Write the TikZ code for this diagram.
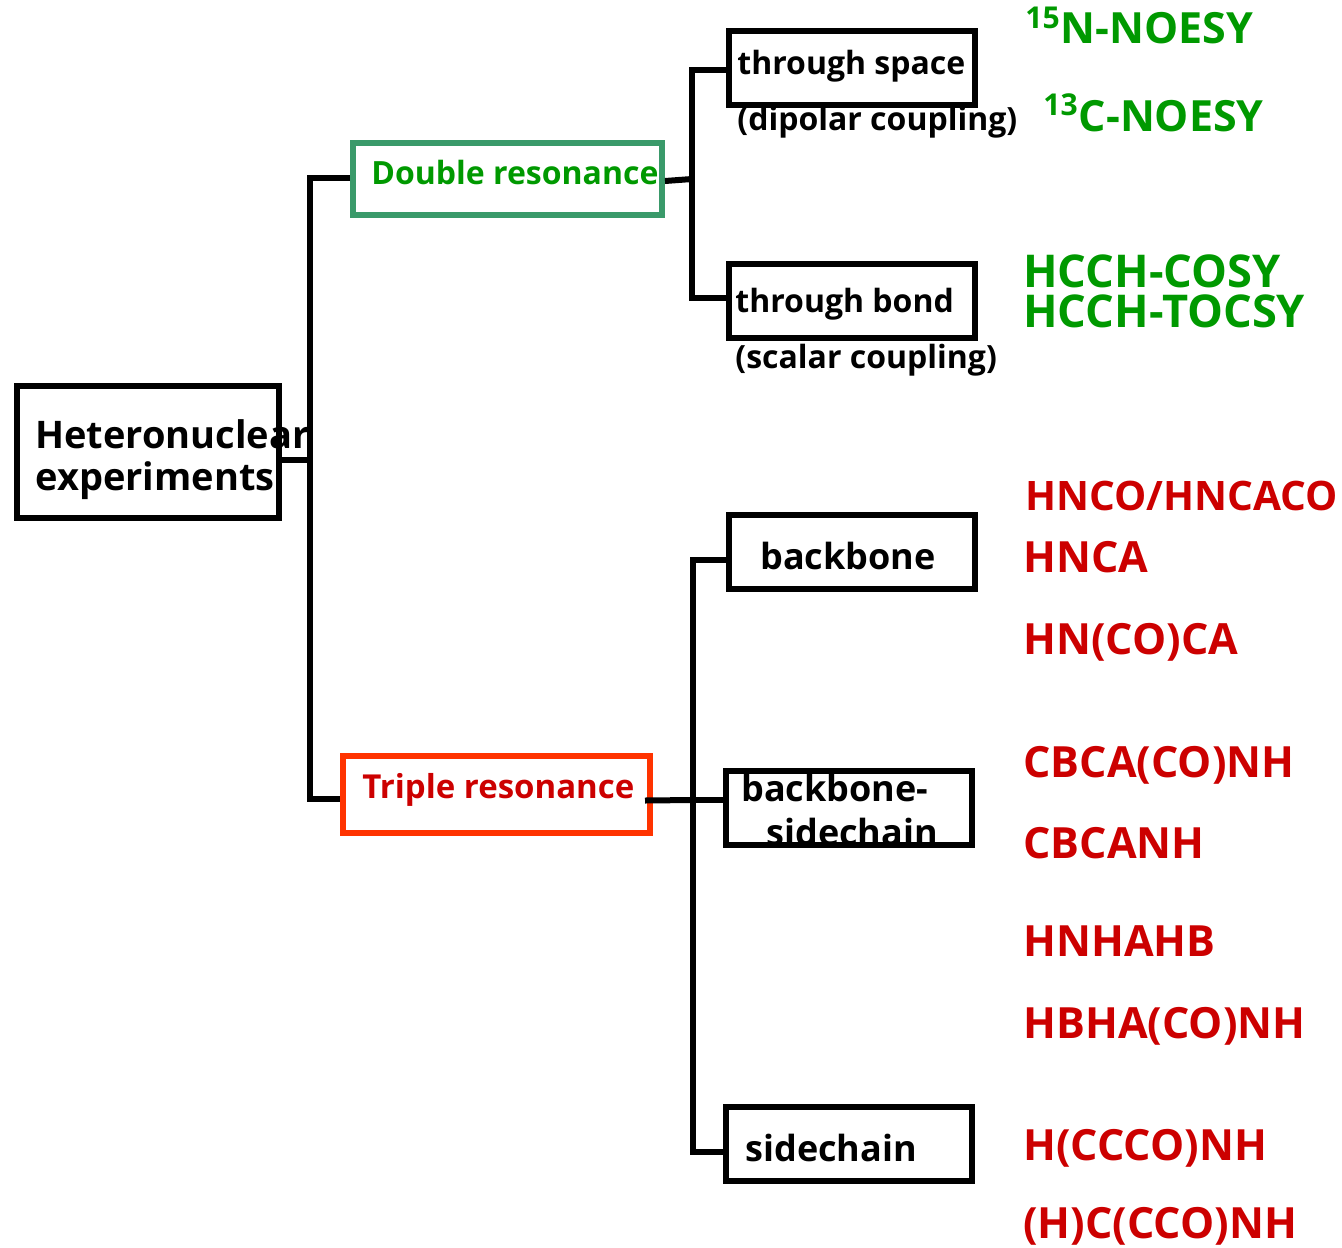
\documentclass[tikz,border=0pt]{standalone}
\usepackage{fontspec}
\setmainfont{Open Sans}
\usetikzlibrary{positioning}
\definecolor{dblgreen}{HTML}{3A9A6A}
\definecolor{expgreen}{HTML}{009900}
\definecolor{expred}{HTML}{CC0000}
\definecolor{tripleedge}{HTML}{FF3300}

\begin{document}
\begin{tikzpicture}[x=0.5pt,y=-0.5pt,
  box/.style={draw,line width=3pt,inner sep=0pt,minimum width=123pt,minimum height=37pt},
  wire/.style={line width=3pt},
  lbl/.style={anchor=base west,inner sep=0pt},
  bigtxt/.style={lbl,font=\bfseries\fontsize{19}{22}\selectfont},
  boxtxt/.style={lbl,font=\bfseries\fontsize{18}{20}\selectfont},
  smalltxt/.style={lbl,font=\bfseries\fontsize{16}{18}\selectfont},
  greenexp/.style={lbl,text=expgreen,font=\bfseries\fontsize{22.6}{24}\selectfont},
  redexp/.style={lbl,text=expred,font=\bfseries\fontsize{21.5}{24}\selectfont}]
%
\useasboundingbox (0,0) rectangle (1342,1247);
%
% boxes
\node[box,minimum width=131pt,minimum height=66pt] (hetero) at (147.5,452) {};
\node[box,draw=dblgreen,minimum width=154.5pt,minimum height=36pt] (dbl) at (507.5,179) {};
\node[box,draw=tripleedge,minimum width=153.5pt,minimum height=38.5pt] (triple) at (496.5,794.5) {};
\node[box] (tspace) at (851.5,68) {};
\node[box] (tbond) at (851.5,300.5) {};
\node[box] (bb) at (851.5,552) {};
\node[box] (bbsc) at (849,808) {};
\node[box] (sc) at (849,1144) {};
%
% box texts
\node[bigtxt] (hetero-a) at (35,448) {Heteronuclear};
\node[bigtxt] (hetero-b) at (35,490) {experiments};
\node[smalltxt,text=expgreen] (dbl-txt) at (371,184) {Double resonance};
\node[smalltxt,text=expred,font=\bfseries\fontsize{16.5}{18}\selectfont] (triple-txt) at (362,798) {Triple resonance};
\node[smalltxt] (tspace-txt) at (737,75) {through space};
\node[smalltxt] (tspace-sub) at (737,130) {(dipolar coupling)};
\node[smalltxt] (tbond-txt) at (735,312) {through bond};
\node[smalltxt] (tbond-sub) at (735,368) {(scalar coupling)};
\node[boxtxt] (bb-txt) at (760,569) {backbone};
\node[boxtxt] (bbsc-a) at (741,801) {backbone-};
\node[boxtxt] (bbsc-b) at (766,845) {sidechain};
\node[boxtxt] (sc-txt) at (745,1161) {sidechain};
%
% connectors
\coordinate (spine1-top) at (310,178);
\coordinate (spine1-mid) at (310,460);
\coordinate (spine1-bot) at (310,799);
\coordinate (spine2-top) at (692,70);
\coordinate (spine2-mid) at (692,179);
\coordinate (spine2-bot) at (692,298);
\coordinate (spine3-top) at (693,560);
\coordinate (spine3-mid) at (693,800);
\coordinate (spine3-bot) at (693,1152);
\draw[wire] (hetero.east |- spine1-mid) -- (spine1-mid);
\draw[wire] (dbl.west |- spine1-top) -- (spine1-top) -- (spine1-bot) -- (triple.west |- spine1-bot);
\draw[wire] ([yshift=-1pt]dbl.east) -- (spine2-mid);
\draw[wire] (tspace.west |- spine2-top) -- (spine2-top) -- (spine2-bot) -- (tbond.west |- spine2-bot);
\draw[wire] ([xshift=-4pt,yshift=-3pt]triple.east) -- (spine3-mid);
\draw[wire] (bb.west |- spine3-top) -- (spine3-top) -- (spine3-bot) -- (sc.west |- spine3-bot);
\draw[wire] (spine3-mid) -- (bbsc.west |- spine3-mid);
%
% double resonance experiments
\node[greenexp,font=\bfseries\fontsize{21.5}{24}\selectfont] (noesy-n) at (1025,44) {\textsuperscript{15}N-NOESY};
\node[greenexp,font=\bfseries\fontsize{21.5}{24}\selectfont] (noesy-c) at (1043,131) {\textsuperscript{13}C-NOESY};
\node[greenexp] (hcch-cosy) at (1023,287) {HCCH-COSY};
\node[greenexp] (hcch-tocsy) at (1023,327) {HCCH-TOCSY};
%
% triple resonance experiments
\node[redexp,font=\bfseries\fontsize{20.3}{24}\selectfont] (hnco) at (1025,510) {HNCO/HNCACO};
\node[redexp] (hnca) at (1023,572) {HNCA};
\node[redexp] (hncoca) at (1023,654) {HN(CO)CA};
\node[redexp] (cbcaconh) at (1023,777) {CBCA(CO)NH};
\node[redexp] (cbcanh) at (1023,858) {CBCANH};
\node[redexp] (hnhahb) at (1023,956) {HNHAHB};
\node[redexp] (hbhaconh) at (1023,1038) {HBHA(CO)NH};
\node[redexp] (hccconh) at (1023,1160) {H(CCCO)NH};
\node[redexp] (hcccoconh) at (1023,1238) {(H)C(CCO)NH};
\end{tikzpicture}
\end{document}
